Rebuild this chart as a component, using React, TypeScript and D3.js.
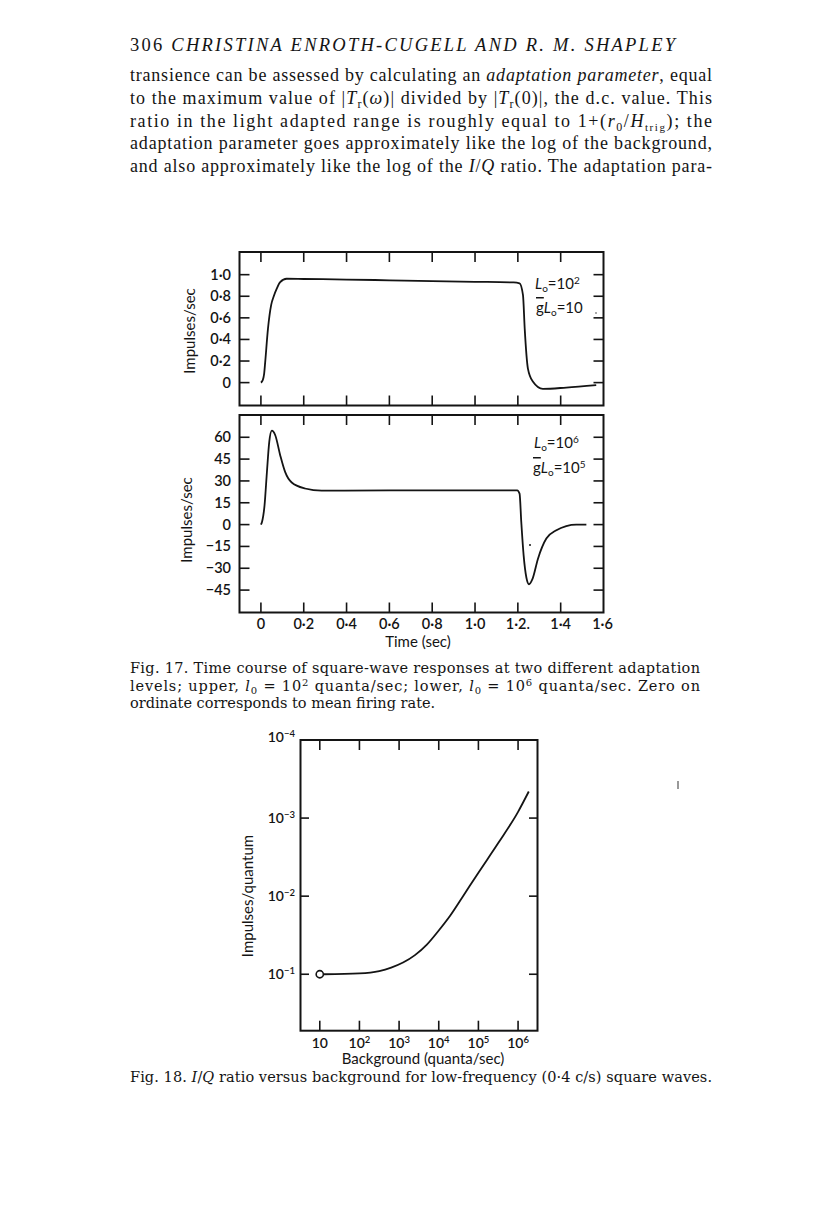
import React from 'react';
import * as d3 from 'd3';

// ---------- Fig. 17 data ----------
const upperTime = [0, 0.008, 0.015, 0.02, 0.033, 0.048, 0.06, 0.074, 0.09, 0.12, 0.2, 0.4, 0.6, 0.8, 1.0, 1.18, 1.208, 1.224, 1.232, 1.247, 1.27, 1.317, 1.426, 1.566];
const upperResp = [0, 0.02, 0.08, 0.19, 0.5, 0.72, 0.8, 0.87, 0.93, 0.962, 0.96, 0.955, 0.948, 0.94, 0.934, 0.928, 0.92, 0.81, 0.5, 0.13, 0.01, -0.058, -0.046, -0.024];

const lowerTime = [0, 0.005, 0.017, 0.028, 0.039, 0.051, 0.067, 0.09, 0.113, 0.144, 0.206, 0.284, 0.39, 0.6, 0.8, 1.0, 1.197, 1.208, 1.216, 1.227, 1.24, 1.252, 1.268, 1.294, 1.333, 1.38, 1.426, 1.473, 1.52];
const lowerResp = [0, 1.8, 13.3, 36, 56.8, 64.5, 61.4, 47.7, 36.2, 28.9, 24.8, 23.3, 23.4, 23.5, 23.5, 23.5, 23.5, 21.3, 1.8, -21.1, -36.5, -41, -37.5, -23.4, -9.6, -3.9, -1, 0, 0];

const timeTicks = [0, 0.2, 0.4, 0.6, 0.8, 1.0, 1.2, 1.4];
const timeLabelValues = [0, 0.2, 0.4, 0.6, 0.8, 1.0, 1.2, 1.4, 1.6];
const timeLabels = ['0', '0·2', '0·4', '0·6', '0·8', '1·0', '1·2.', '1·4', '1·6'];
const upperYTicks = [0, 0.2, 0.4, 0.6, 0.8, 1.0];
const upperYLabels = ['0', '0·2', '0·4', '0·6', '0·8', '1·0'];
const lowerYTicks = [-45, -30, -15, 0, 15, 30, 45, 60];
const lowerYLabels = ['−45', '−30', '−15', '0', '15', '30', '45', '60'];

// ---------- Fig. 18 data ----------
const background = [12.6, 100, 316, 631, 1259, 2512, 5012, 10000, 19950, 39810, 100000, 316200, 1000000, 1862000];
const ratio = [0.1, 0.0977, 0.0912, 0.0822, 0.0708, 0.0569, 0.0417, 0.0275, 0.0174, 0.01023, 0.00501, 0.00209, 0.000832, 0.000457];
const firstPoint = { bg: 10, ratio: 0.1 };
const bgTicks = [10, 100, 1e3, 1e4, 1e5, 1e6];
const bgTickExp = ['', '2', '3', '4', '5', '6'];
const ratioTicks = [1e-4, 1e-3, 1e-2, 1e-1];
const ratioTickExp = ['−4', '−3', '−2', '−1'];

const SANS = 'Lato, "Open Sans", sans-serif';
const SERIF_BODY = '"Liberation Serif", serif';
const SERIF_CAP = '"DejaVu Serif", serif';
const INK = '#141414';

function Sub({ t, size = 11, shift = -4 }: { t: string; size?: number; shift?: number }) {
  return (
    <tspan baselineShift={shift} fontSize={size}>
      {t}
    </tspan>
  );
}
function Sup({ t, size = 10, shift = 6 }: { t: string; size?: number; shift?: number }) {
  return (
    <tspan baselineShift={shift} fontSize={size}>
      {t}
    </tspan>
  );
}

export default function App() {
  // Fig 17 scales
  const x17 = d3.scaleLinear().domain([-0.1, 1.6]).range([239.5, 603.5]);
  const yUp = d3.scaleLinear().domain([-0.212, 1.21]).range([405.5, 252]);
  const yLo = d3.scaleLinear().domain([-60.4, 75.3]).range([612.5, 415]);

  const upLine = d3.line<number>().x((d, i) => x17(upperTime[i])).y((d) => yUp(d)).curve(d3.curveMonotoneX);
  const loLine = d3.line<number>().x((d, i) => x17(lowerTime[i])).y((d) => yLo(d)).curve(d3.curveMonotoneX);

  // Fig 18 scales
  const x18 = d3.scaleLog().domain([Math.pow(10, 0.514), Math.pow(10, 6.49)]).range([300.5, 537.5]);
  const y18 = d3.scaleLog().domain([1e-4, Math.pow(10, -0.277)]).range([740, 1030.7]);
  const curve18 = d3.line<number>().x((d, i) => x18(background[i])).y((d) => y18(d)).curve(d3.curveMonotoneX);

  const panel = (top: number, bottom: number, yTicks: number[], ys: d3.ScaleLinear<number, number>, yLabels: string[], labelX: number, labelY: number) => {
    const [l, r] = x17.range();
    return (
      <g>
        <rect x={l} y={top} width={r - l} height={bottom - top} fill="none" stroke={INK} strokeWidth={2} />
        {timeTicks.map((t) => (
          <g key={'t' + t}>
            <line x1={x17(t)} x2={x17(t)} y1={top} y2={top + 10} stroke={INK} strokeWidth={1.6} />
            <line x1={x17(t)} x2={x17(t)} y1={bottom} y2={bottom - 10} stroke={INK} strokeWidth={1.6} />
          </g>
        ))}
        {yTicks.map((v, i) => (
          <g key={'y' + v}>
            <line x1={l} x2={l + 10} y1={ys(v)} y2={ys(v)} stroke={INK} strokeWidth={1.6} />
            <line x1={r} x2={r - 10} y1={ys(v)} y2={ys(v)} stroke={INK} strokeWidth={1.6} />
            <text x={231} y={ys(v) + 5} textAnchor="end" fontFamily={SANS} fontSize={14.5} fontWeight={600} fill={INK}>
              {yLabels[i]}
            </text>
          </g>
        ))}
        <text
          transform={`translate(${labelX},${labelY}) rotate(-90)`}
          textAnchor="middle"
          fontFamily={SANS}
          fontSize={15}
          fill={INK}
        >
          Impulses/sec
        </text>
      </g>
    );
  };

  return (
    <svg width={816} height={1211} style={{ position: 'absolute', left: 0, top: 0, background: '#fff' }}>
      <rect x={0} y={0} width={816} height={1211} fill="#fff" />

      {/* Running head */}
      <text x={130} y={51} fontFamily={SERIF_BODY} fontSize={18.5} fill={INK} textLength={545} lengthAdjust="spacing">
        306{'  '}<tspan fontStyle="italic">CHRISTINA ENROTH-CUGELL AND R. M. SHAPLEY</tspan>
      </text>

      {/* Body text */}
      <g fontFamily={SERIF_BODY} fontSize={18} fill={INK}>
        <text x={130} y={81} textLength={582} lengthAdjust="spacing">
          transience can be assessed by calculating an <tspan fontStyle="italic">adaptation parameter</tspan>, equal
        </text>
        <text x={130} y={104} textLength={582} lengthAdjust="spacing">
          to the maximum value of |<tspan fontStyle="italic">T</tspan>
          <Sub t="r" size={12} />(<tspan fontStyle="italic">ω</tspan>)| divided by |<tspan fontStyle="italic">T</tspan>
          <Sub t="r" size={12} />(0)|, the d.c. value. This
        </text>
        <text x={130} y={127} textLength={582} lengthAdjust="spacing">
          ratio in the light adapted range is roughly equal to 1+(<tspan fontStyle="italic">r</tspan>
          <Sub t="0" size={12} />/<tspan fontStyle="italic">H</tspan>
          <Sub t="trig" size={11} />); the
        </text>
        <text x={130} y={149} textLength={582} lengthAdjust="spacing">
          adaptation parameter goes approximately like the log of the background,
        </text>
        <text x={130} y={172} textLength={582} lengthAdjust="spacing">
          and also approximately like the log of the <tspan fontStyle="italic">I</tspan>/<tspan fontStyle="italic">Q</tspan> ratio. The adaptation para-
        </text>
      </g>

      {/* Fig. 17 upper panel */}
      {panel(252, 405.5, upperYTicks, yUp, upperYLabels, 195, 331)}
      <path d={upLine(upperResp) || ''} fill="none" stroke={INK} strokeWidth={1.8} />
      <g fontFamily={SANS} fontSize={15} fill={INK}>
        <text x={535} y={289}>
          <tspan fontStyle="italic">L</tspan>
          <Sub t="o" size={10} shift={-3} />=10<Sup t="2" size={10} shift={5} />
        </text>
        <text x={536} y={313}>
          <tspan textDecoration="overline">g</tspan>
          <tspan fontStyle="italic">L</tspan>
          <Sub t="o" size={10} shift={-3} />=10
        </text>
      </g>
      <circle cx={596} cy={313} r={0.7} fill={INK} />

      {/* Fig. 17 lower panel */}
      {panel(415, 612.5, lowerYTicks, yLo, lowerYLabels, 192, 520)}
      <path d={loLine(lowerResp) || ''} fill="none" stroke={INK} strokeWidth={1.8} />
      <circle cx={530} cy={545} r={1} fill={INK} />
      <g fontFamily={SANS} fontSize={15} fill={INK}>
        <text x={534} y={448}>
          <tspan fontStyle="italic">L</tspan>
          <Sub t="o" size={10} shift={-3} />=10<Sup t="6" size={10} shift={5} />
        </text>
        <text x={533} y={473}>
          <tspan textDecoration="overline">g</tspan>
          <tspan fontStyle="italic">L</tspan>
          <Sub t="o" size={10} shift={-3} />=10<Sup t="5" size={10} shift={5} />
        </text>
      </g>
      {timeLabelValues.map((t, i) => (
        <text key={'tl' + t} x={x17(t) - (i === 8 ? 1 : 0)} y={629} textAnchor="middle" fontFamily={SANS} fontSize={14.5} fontWeight={600} fill={INK}>
          {timeLabels[i]}
        </text>
      ))}
      <text x={418} y={647} textAnchor="middle" fontFamily={SANS} fontSize={15} fill={INK}>
        Time (sec)
      </text>

      {/* Fig. 17 caption */}
      <g fontFamily={SERIF_CAP} fontSize={14.5} fill={INK}>
        <text x={130} y={673} textLength={570} lengthAdjust="spacing">
          Fig. 17. Time course of square-wave responses at two different adaptation
        </text>
        <text x={130} y={691} textLength={570} lengthAdjust="spacing">
          levels; upper, <tspan fontStyle="italic">l</tspan>
          <Sub t="0" size={10} shift={-3} /> = 10<Sup t="2" size={10} shift={5} /> quanta/sec; lower, <tspan fontStyle="italic">l</tspan>
          <Sub t="0" size={10} shift={-3} /> = 10<Sup t="6" size={10} shift={5} /> quanta/sec. Zero on
        </text>
        <text x={130} y={708}>ordinate corresponds to mean firing rate.</text>
      </g>

      {/* Fig. 18 */}
      <g>
        <rect x={300.5} y={740} width={237} height={290.7} fill="none" stroke={INK} strokeWidth={2} />
        {bgTicks.map((b, i) => (
          <g key={'b' + b}>
            <line x1={x18(b)} x2={x18(b)} y1={740} y2={750} stroke={INK} strokeWidth={1.6} />
            <line x1={x18(b)} x2={x18(b)} y1={1030.7} y2={1020.7} stroke={INK} strokeWidth={1.6} />
            <text x={x18(b)} y={1048} textAnchor="middle" fontFamily={SANS} fontSize={14} fontWeight={600} fill={INK}>
              10{bgTickExp[i] ? <Sup t={bgTickExp[i]} size={9.5} shift={5} /> : null}
            </text>
          </g>
        ))}
        {ratioTicks.map((v, i) => (
          <g key={'r' + v}>
            {i > 0 ? (
              <>
                <line x1={300.5} x2={309} y1={y18(v)} y2={y18(v)} stroke={INK} strokeWidth={1.6} />
                <line x1={537.5} x2={529} y1={y18(v)} y2={y18(v)} stroke={INK} strokeWidth={1.6} />
              </>
            ) : null}
            <text x={295} y={y18(v) + (i === 0 ? 2 : 5)} textAnchor="end" fontFamily={SANS} fontSize={14} fontWeight={600} fill={INK}>
              10<Sup t={ratioTickExp[i]} size={9.5} shift={5} />
            </text>
          </g>
        ))}
        <path d={curve18(ratio) || ''} fill="none" stroke={INK} strokeWidth={1.8} />
        <circle cx={x18(firstPoint.bg)} cy={y18(firstPoint.ratio)} r={3.6} fill="#fff" stroke={INK} strokeWidth={1.6} />
        <text
          transform="translate(253,896) rotate(-90)"
          textAnchor="middle"
          fontFamily={SANS}
          fontSize={15}
          fill={INK}
        >
          Impulses/quantum
        </text>
        <text x={423} y={1064} textAnchor="middle" fontFamily={SANS} fontSize={15} fill={INK}>
          Background (quanta/sec)
        </text>
      </g>
      <line x1={678} x2={678} y1={781} y2={789} stroke="#555" strokeWidth={1.2} />

      {/* Fig. 18 caption */}
      <text x={130} y={1082} fontFamily={SERIF_CAP} fontSize={14.5} fill={INK} textLength={582} lengthAdjust="spacing">
        Fig. 18. <tspan fontStyle="italic">I</tspan>/<tspan fontStyle="italic">Q</tspan> ratio versus background for low-frequency (0·4 c/s) square waves.
      </text>
    </svg>
  );
}
